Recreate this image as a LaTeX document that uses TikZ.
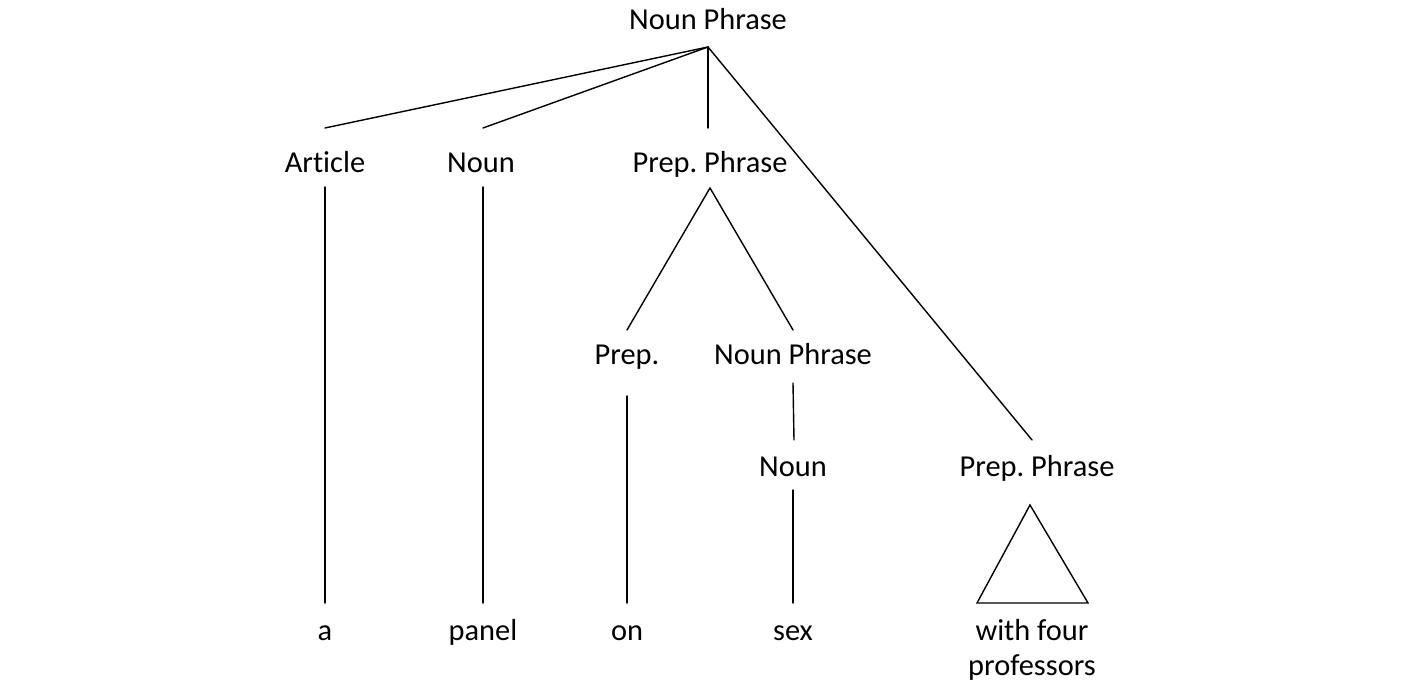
\documentclass[tikz,border=0pt]{standalone}
\usepackage{fontspec}
\setmainfont{Carlito}[Ligatures=NoCommon]
\frenchspacing
\begin{document}
\begin{tikzpicture}[x=0.5pt,y=-0.5pt,
  lab/.style={font=\fontsize{15.2}{17.5}\selectfont, inner sep=0pt, align=center, anchor=base},
  edge/.style={line width=0.7pt, line cap=round}]
\useasboundingbox (0,0) rectangle (1409,688);
% labels (placed at baselines)
\node[lab] (np) at (708,30) {Noun Phrase};
\node[lab] (art) at (325,173) {Article};
\node[lab] (n1) at (481,173) {Noun};
\node[lab] (pp1) at (710,173) {Prep. Phrase};
\node[lab] (prep) at (627,365) {Prep.};
\node[lab] (np2) at (793,365) {Noun Phrase};
\node[lab] (n2) at (793,477) {Noun};
\node[lab] (pp2) at (1037,477) {Prep. Phrase};
\node[lab] (a) at (325,641) {a};
\node[lab] (panel) at (483,641) {panel};
\node[lab] (on) at (627,641) {on};
\node[lab] (sex) at (793,641) {sex};
\node[lab] (wfp) at (1032,676) {with four\\professors};
% edge end points
\coordinate (npB) at (708,47);
\coordinate (artT) at (325,128);
\coordinate (n1T) at (483,128);
\coordinate (pp1T) at (708,128);
\coordinate (pp2T) at (1032,440);
\coordinate (artB) at (325,187);
\coordinate (aT) at (325,603);
\coordinate (n1B) at (483,187);
\coordinate (panelT) at (483,603);
\coordinate (pp1B) at (710,188);
\coordinate (prepT) at (627,330);
\coordinate (np2T) at (793,330);
\coordinate (prepB) at (627,396);
\coordinate (onT) at (627,603);
\coordinate (np2B) at (793,383);
\coordinate (n2T) at (794,440);
\coordinate (n2B) at (793,490);
\coordinate (sexT) at (793,603);
\coordinate (triA) at (1030,505);
\coordinate (triL) at (977,603);
\coordinate (triR) at (1088,603);
% edges
\draw[edge] (npB) -- (artT);
\draw[edge] (npB) -- (n1T);
\draw[edge] (npB) -- (pp1T);
\draw[edge] (npB) -- (pp2T);
\draw[edge] (artB) -- (aT);
\draw[edge] (n1B) -- (panelT);
\draw[edge] (pp1B) -- (prepT);
\draw[edge] (pp1B) -- (np2T);
\draw[edge] (prepB) -- (onT);
\draw[edge] (np2B) -- (n2T);
\draw[edge] (n2B) -- (sexT);
\draw[edge, line join=miter] (triA) -- (triL) -- (triR) -- cycle;
\end{tikzpicture}
\end{document}
